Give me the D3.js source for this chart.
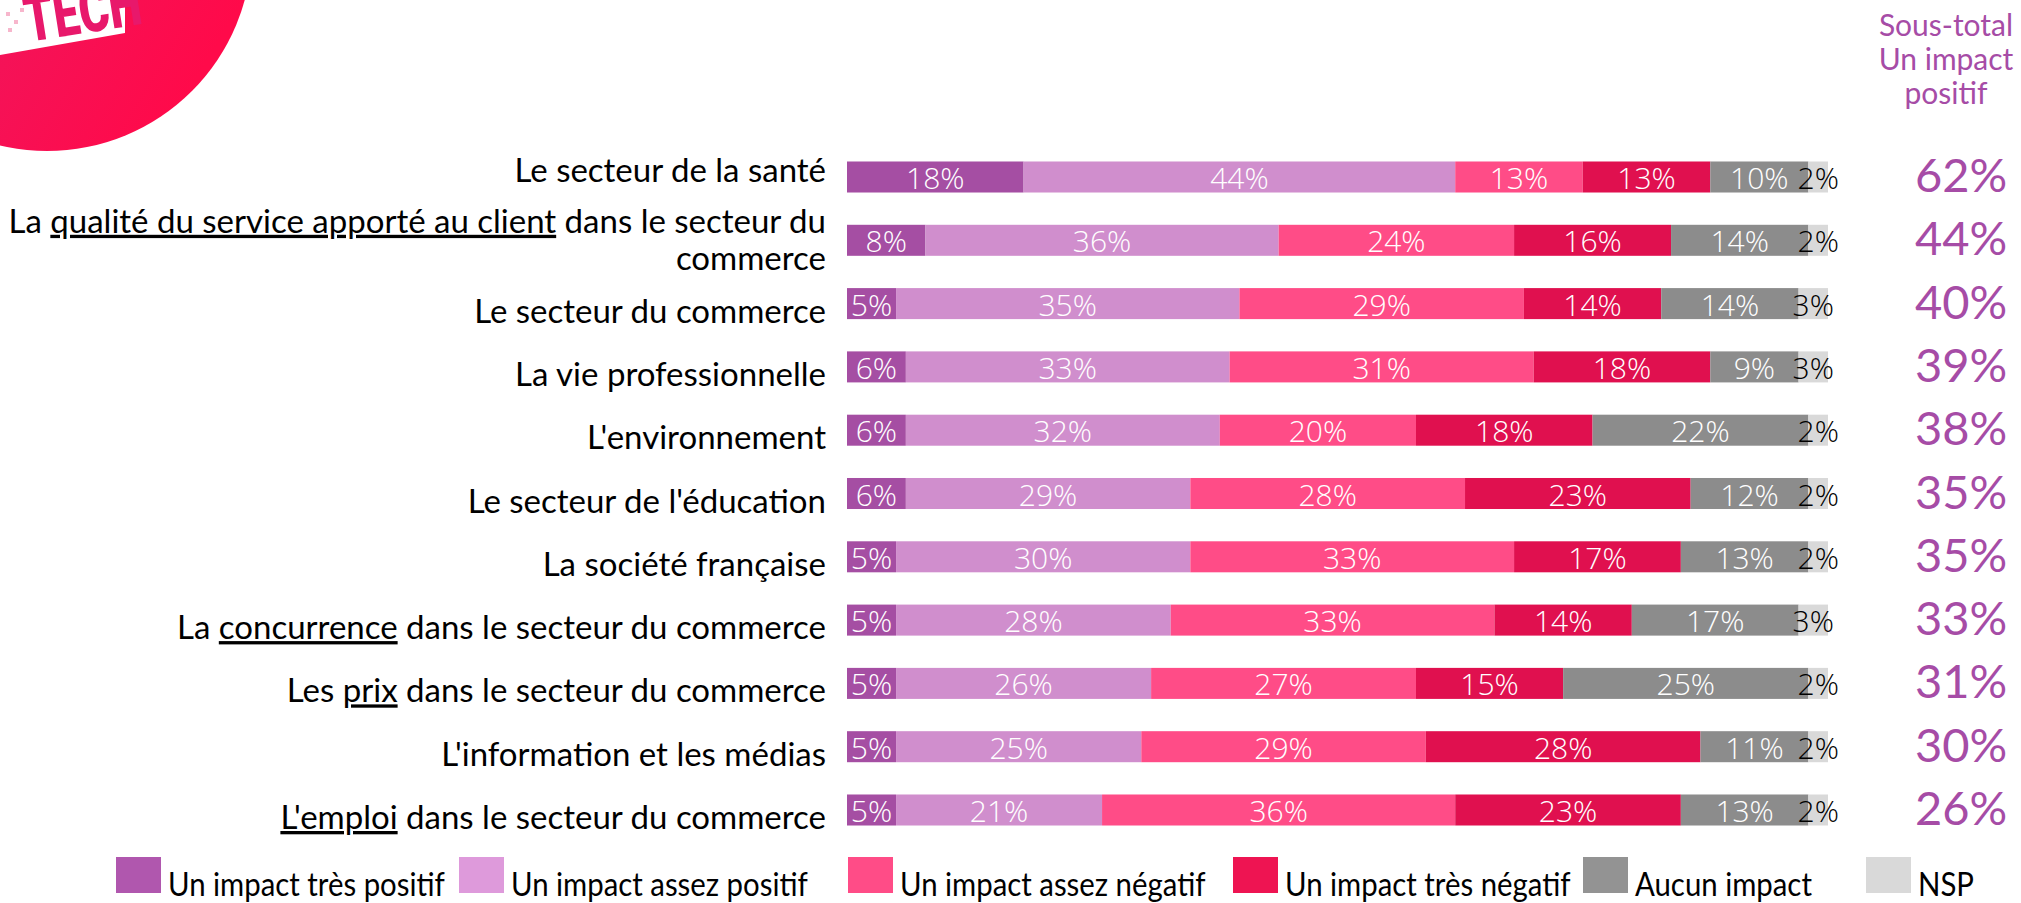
<!DOCTYPE html>
<html>
<head>
<meta charset="utf-8">
<script src="https://cdn.jsdelivr.net/npm/d3@7"></script>
<style>
  html, body { margin: 0; padding: 0; background: #fff; }
  svg { display: block; }
</style>
</head>
<body>
<svg id="chart" width="2021" height="903"></svg>
<script>
// ---------------- DATA ----------------
const categories = [
  "Le secteur de la santé",
  "La qualité du service apporté au client dans le secteur du\ncommerce",
  "Le secteur du commerce",
  "La vie professionnelle",
  "L'environnement",
  "Le secteur de l'éducation",
  "La société française",
  "La concurrence dans le secteur du commerce",
  "Les prix dans le secteur du commerce",
  "L'information et les médias",
  "L'emploi dans le secteur du commerce"
];
const underlined = ["", "qualité du service apporté au client", "", "", "", "", "", "concurrence", "prix", "", "L'emploi"];

const seriesNames = ["Un impact très positif", "Un impact assez positif", "Un impact assez négatif", "Un impact très négatif", "Aucun impact", "NSP"];
const tresPositif  = [18, 8, 5, 6, 6, 6, 5, 5, 5, 5, 5];
const assezPositif = [44, 36, 35, 33, 32, 29, 30, 28, 26, 25, 21];
const assezNegatif = [13, 24, 29, 31, 20, 28, 33, 33, 27, 29, 36];
const tresNegatif  = [13, 16, 14, 18, 18, 23, 17, 14, 15, 28, 23];
const aucunImpact  = [10, 14, 14, 9, 22, 12, 13, 17, 25, 11, 13];
const nsp          = [2, 2, 3, 3, 2, 2, 2, 3, 2, 2, 2];
const sousTotal    = [62, 44, 40, 39, 38, 35, 35, 33, 31, 30, 26];
const headerLines  = ["Sous-total", "Un impact", "positif"];

// ---------------- STYLE ----------------
const barColors    = ["#A54EA3", "#D08ECD", "#FF4C87", "#E0104F", "#8C8C8C", "#D9D9D9"];
const legendColors = ["#B057AE", "#DE9ADB", "#FF4C87", "#EE1452", "#939393", "#D9D9D9"];
const labelColors  = ["#fff", "#fff", "#fff", "#fff", "#fff", "#000"];
const purple = "#A64CA6";
// vertical nudge of the category text boxes relative to their bars (layout)
const labelShift = i => (i === 0 ? -6 : i === 1 ? 0 : 8);

const svg = d3.select("#chart");

// ---------------- LOGO ----------------
const defs = svg.append("defs");
const grad = defs.append("linearGradient").attr("id", "logoGrad")
  .attr("x1", "0%").attr("y1", "0%").attr("x2", "100%").attr("y2", "60%");
grad.append("stop").attr("offset", "0%").attr("stop-color", "#E3206E");
grad.append("stop").attr("offset", "100%").attr("stop-color", "#FF0A4A");
const logo = svg.append("g");
logo.append("circle").attr("cx", 47).attr("cy", -54).attr("r", 205).attr("fill", "url(#logoGrad)");
logo.append("path").attr("d", "M0,-10 L125,-10 L125,33 L0,55 Z").attr("fill", "#fff");
logo.append("text")
  .attr("transform", "translate(28,42) rotate(-9) scale(0.72,1)")
  .attr("font-family", "Roboto, 'DejaVu Sans', sans-serif")
  .attr("font-weight", 900)
  .attr("font-size", 64)
  .attr("fill", "#E8186B")
  .text("TECH");
[[6,12],[14,20],[20,8],[8,28]].forEach(p => {
  logo.append("rect").attr("x", p[0]).attr("y", p[1]).attr("width", 4).attr("height", 4)
    .attr("fill", "#F7B6CC");
});

// ---------------- SCALES ----------------
const x = d3.scaleLinear().domain([0, 100]).range([847, 1828]);
const y = d3.scaleBand().domain(d3.range(categories.length))
  .range([145.35, 841.65]).paddingInner(0.51).paddingOuter(0.255);

const keys = ["tp", "ap", "an", "tn", "ai", "ns"];
const table = categories.map((c, i) => ({
  i, tp: tresPositif[i], ap: assezPositif[i], an: assezNegatif[i],
  tn: tresNegatif[i], ai: aucunImpact[i], ns: nsp[i]
}));
const stacked = d3.stack().keys(keys)(table);

// ---------------- BARS ----------------
const layers = svg.append("g").selectAll("g").data(stacked).join("g")
  .attr("fill", (d, k) => barColors[k]);
layers.selectAll("rect").data(d => d).join("rect")
  .attr("x", d => x(d[0]))
  .attr("y", d => y(d.data.i))
  .attr("width", d => x(d[1]) - x(d[0]))
  .attr("height", y.bandwidth());

// segment labels
const segLabels = svg.append("g")
  .attr("font-family", "'Open Sans', 'Noto Sans', sans-serif")
  .attr("font-weight", 300)
  .attr("font-size", 30)
  .attr("text-anchor", "middle");
stacked.forEach((layer, k) => {
  segLabels.append("g").attr("fill", labelColors[k])
    .selectAll("text").data(layer).join("text")
    .attr("x", d => (x(d[0]) + x(d[1])) / 2)
    .attr("y", d => y(d.data.i) + y.bandwidth() / 2 + 12)
    .text(d => (d[1] - d[0]) + "%");
});

// ---------------- CATEGORY LABELS ----------------
const catG = svg.append("g")
  .attr("font-family", "Lato, 'Noto Sans', sans-serif")
  .attr("font-size", 33)
  .attr("fill", "#000")
  .attr("text-anchor", "end");
categories.forEach((c, i) => {
  const lines = c.split("\n");
  const cy = y(i) + y.bandwidth() / 2 + labelShift(i);
  const lh = 37;
  lines.forEach((ln, li) => {
    const ty = cy + (li - (lines.length - 1) / 2) * lh + 11;
    const t = catG.append("text").attr("x", 826).attr("y", ty);
    const u = underlined[i];
    const pos = u ? ln.indexOf(u) : -1;
    if (pos >= 0) {
      if (pos > 0) t.append("tspan").text(ln.slice(0, pos));
      t.append("tspan").attr("text-decoration", "underline").text(u);
      if (pos + u.length < ln.length) t.append("tspan").text(ln.slice(pos + u.length));
    } else {
      t.text(ln);
    }
  });
});

// ---------------- SOUS-TOTAL ----------------
const hdr = svg.append("g")
  .attr("font-family", "Lato, 'Noto Sans', sans-serif")
  .attr("font-size", 30)
  .attr("fill", purple)
  .attr("text-anchor", "middle");
headerLines.forEach((h, k) => {
  hdr.append("text").attr("x", 1946).attr("y", 36 + k * 34).text(h);
});
svg.append("g")
  .attr("font-family", "Lato, 'Noto Sans', sans-serif")
  .attr("font-size", 47)
  .attr("fill", purple)
  .attr("text-anchor", "middle")
  .selectAll("text").data(sousTotal).join("text")
  .attr("x", 1961)
  .attr("y", (d, i) => y(i) + y.bandwidth() / 2 + 15)
  .text(d => d + "%");

// ---------------- LEGEND ----------------
const legendX = [116, 459, 848, 1233, 1583, 1866];
const leg = svg.append("g");
seriesNames.forEach((s, k) => {
  leg.append("rect").attr("x", legendX[k]).attr("y", 857).attr("width", 45).attr("height", 36)
    .attr("fill", legendColors[k]);
  leg.append("text")
    .attr("transform", `translate(${legendX[k] + 52},896) scale(0.89,1)`)
    .attr("font-family", "Lato, 'Noto Sans', sans-serif")
    .attr("font-size", 33)
    .attr("fill", "#000")
    .text(s);
});
</script>
</body>
</html>
